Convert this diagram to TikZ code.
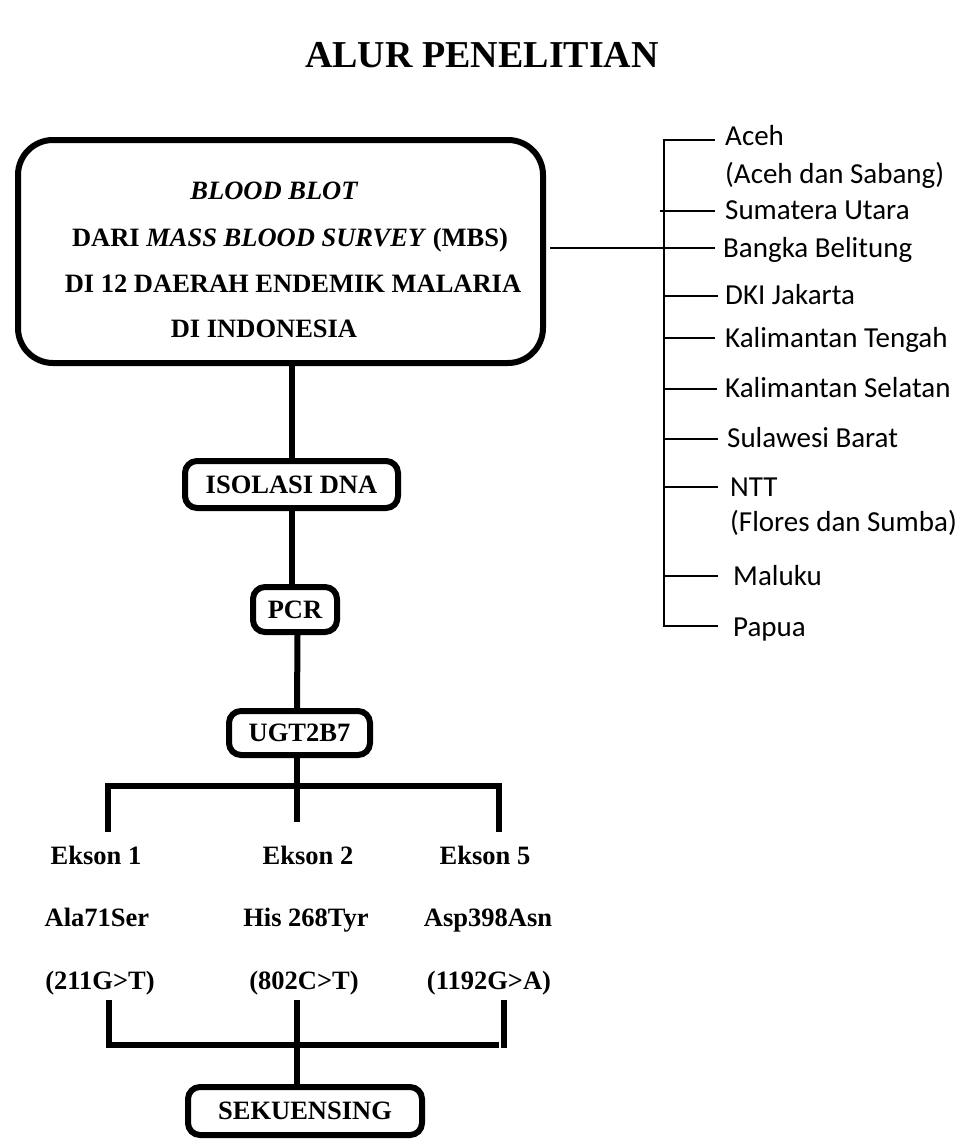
\documentclass[tikz,border=0pt]{standalone}
\usepackage{fontspec}
\setmainfont{Liberation Serif}
\newfontfamily\calibrifont{Carlito}
\begin{document}
\begin{tikzpicture}[x=1pt,y=-1pt,
  thickline/.style={line width=6pt},
  thinline/.style={line width=2pt},
  stepbox/.style={draw, line width=6pt, rounded corners=12pt, inner sep=0pt, font=\bfseries\fontsize{26.5}{30}\selectfont},
  lbl/.style={anchor=base, inner sep=0pt, font=\bfseries\fontsize{26.5}{30}\selectfont},
  reg/.style={anchor=base west, inner sep=0pt, font=\calibrifont\fontsize{29}{33}\selectfont}]
\useasboundingbox (0,0) rectangle (963,1140);

% title
\node[anchor=base west, inner sep=0pt, font=\bfseries\fontsize{38}{40}\selectfont] (title) at (305,67) {ALUR PENELITIAN};

% main box
\node[draw, line width=6pt, rounded corners=35pt, minimum width=525pt, minimum height=223pt, inner sep=0pt] (main) at (280.5,251.5) {};
\node[lbl] (t1) at (274,199) {\itshape BLOOD BLOT};
\node[lbl] (t2) at (290,246) {DARI \textit{MASS BLOOD SURVEY} (MBS)};
\node[lbl] (t3) at (293,292) {DI 12 DAERAH ENDEMIK MALARIA};
\node[lbl] (t4) at (264,337) {DI INDONESIA};

% step boxes
\node[stepbox, minimum width=213pt, minimum height=47pt] (iso) at (291.5,484.5) {ISOLASI DNA};
\node[stepbox, minimum width=84pt, minimum height=45pt] (pcr) at (295,609.5) {PCR};
\node[stepbox, minimum width=141pt, minimum height=44pt] (ugt) at (299.5,733) {UGT2B7};
\node[stepbox, minimum width=234pt, minimum height=48pt] (sek) at (305,1111) {SEKUENSING};

% stems
\draw[thickline] (iso.north |- main.south) -- (iso.north);
\draw[thickline] (iso.south) -- (iso.south |- pcr.north);
\draw[thickline] ([xshift=2.5pt]pcr.south) -- ([xshift=-2.5pt]ugt.north);
\coordinate (ugtend) at (297,822);
\draw[thickline] ([xshift=-2.5pt]ugt.south) -- (ugtend);

% upper bar
\coordinate (ul) at (108,832);
\coordinate (ulc) at (108,786);
\coordinate (urc) at (499,786);
\coordinate (ur) at (499,832);
\draw[thickline] (ul) -- (ulc) -- (urc) -- (ur);

% exon labels
\node[lbl] (e1) at (96,864) {Ekson 1};
\node[lbl] (a1) at (97,926) {Ala71Ser};
\node[lbl] (c1) at (100,989) {(211G>T)};
\node[lbl] (e2) at (308,864) {Ekson 2};
\node[lbl] (a2) at (306,926) {His 268Tyr};
\node[lbl] (c2) at (304,989) {(802C>T)};
\node[lbl] (e5) at (485,864) {Ekson 5};
\node[lbl] (a5) at (488,926) {Asp398Asn};
\node[lbl] (c5) at (489,989) {(1192G>A)};

% lower bar
\coordinate (ll) at (109,1000);
\coordinate (llc) at (109,1045);
\coordinate (lrc) at (499,1045);
\coordinate (rtop) at (504,1000);
\coordinate (rbot) at (504,1048);
\coordinate (mtop) at (297,1000);
\draw[thickline] (ll) -- (llc) -- (lrc);
\draw[thickline] (rtop) -- (rbot);
\draw[thickline] (mtop) -- (mtop |- sek.north);

% right list
\coordinate (vtop) at (664,140);
\coordinate (vbot) at (664,626);
\draw[thinline] (vtop) -- (vbot);
\coordinate (mainout) at (550,248);
\draw[thinline] (mainout) -- (715,248);
\draw[thinline] (663,140) -- (715,140);
\draw[thinline] (660,211) -- (715,211);
\draw[thinline] (663,296) -- (718,296);
\draw[thinline] (663,338) -- (715,338);
\draw[thinline] (663,389) -- (717,389);
\draw[thinline] (663,439) -- (718,439);
\draw[thinline] (663,487) -- (718,487);
\draw[thinline] (663,576) -- (718,576);
\draw[thinline] (663,626) -- (718,626);

\node[reg] (r1) at (725,145.3) {Aceh};
\node[reg] (r1b) at (725,183.3) {(Aceh dan Sabang)};
\node[reg] (r2) at (725,219.3) {Sumatera Utara};
\node[reg] (r3) at (723,257.3) {Bangka Belitung};
\node[reg] (r4) at (725,304.3) {DKI Jakarta};
\node[reg] (r5) at (725,347.3) {Kalimantan Tengah};
\node[reg] (r6) at (725,397.3) {Kalimantan Selatan};
\node[reg] (r7) at (727,447.3) {Sulawesi Barat};
\node[reg] (r8) at (730,496.3) {NTT};
\node[reg] (r8b) at (730,531.3) {(Flores dan Sumba)};
\node[reg] (r9) at (733,585.3) {Maluku};
\node[reg] (r10) at (733,636.3) {Papua};
\end{tikzpicture}
\end{document}
